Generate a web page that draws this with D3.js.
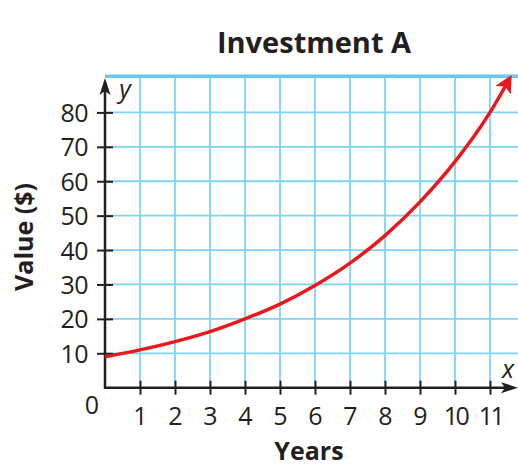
<!DOCTYPE html>
<html>
<head>
<meta charset="utf-8">
<script src="https://cdn.jsdelivr.net/npm/d3@7"></script>
<style>
  body { margin: 0; background: #fff; }
  svg text { font-family: "Open Sans", "Noto Sans", sans-serif; fill: #231f20; }
</style>
</head>
<body>
<script>
const years = [0, 1, 2, 3, 4, 5, 6, 7, 8, 9, 10, 11, 11.57];
const values = [9, 11, 13.4, 16.3, 20, 24.3, 29.7, 36.2, 44.2, 54, 65.7, 80, 90];
const xTicks = [1, 2, 3, 4, 5, 6, 7, 8, 9, 10, 11];
const yTicks = [10, 20, 30, 40, 50, 60, 70, 80];

const width = 518, height = 467;
const gridColor = "#7fd3f7";

const svg = d3.select("body").append("svg")
    .attr("width", width)
    .attr("height", height);

var x = d3.scaleLinear().domain([0, 12]).range([105, 525]);
var y = d3.scaleLinear().domain([0, 90]).range([387.7, 78]);

const defs = svg.append("defs");
defs.append("marker")
    .attr("id", "redArrow")
    .attr("viewBox", "0 0 10 10")
    .attr("refX", 8).attr("refY", 5)
    .attr("markerWidth", 5).attr("markerHeight", 5)
    .attr("markerUnits", "strokeWidth")
    .attr("orient", "auto")
    .append("path")
    .attr("d", "M0,0 L10,5 L0,10 L2.5,5 Z")
    .attr("fill", "#e8191c");

// grid
svg.append("g").selectAll("line")
    .data(d3.range(1, 13))
    .enter().append("line")
    .attr("x1", d => x(d)).attr("x2", d => x(d))
    .attr("y1", y(0)).attr("y2", y(90.5))
    .attr("stroke", gridColor).attr("stroke-width", 1.8);

svg.append("g").selectAll("line")
    .data(yTicks)
    .enter().append("line")
    .attr("x1", x(0)).attr("x2", width)
    .attr("y1", d => y(d)).attr("y2", d => y(d))
    .attr("stroke", gridColor).attr("stroke-width", 1.8);

svg.append("line")
    .attr("x1", x(0)).attr("x2", width)
    .attr("y1", y(90.5)).attr("y2", y(90.5))
    .attr("stroke", "#6cc6ef").attr("stroke-width", 3.5);

// axes
var yAxis = d3.axisLeft(y).tickValues(yTicks).tickSize(8).tickPadding(8);
var yAxisGroup = svg.append("g")
    .attr("transform", `translate(${x(0)}, 0)`)
    .call(yAxis);
yAxisGroup.select(".domain").remove();
yAxisGroup.selectAll(".tick line").attr("x2", 8).attr("x1", -8)
    .attr("stroke", "#231f20").attr("stroke-width", 2);
yAxisGroup.selectAll(".tick text")
    .attr("x", -17)
    .attr("font-size", 25)
    .attr("letter-spacing", -0.5)
    .attr("dy", "0.36em");

var xAxis = d3.axisBottom(x).tickValues(xTicks).tickSize(7).tickPadding(0);
var xAxisGroup = svg.append("g")
    .attr("transform", `translate(0, ${y(0)})`)
    .call(xAxis);
xAxisGroup.select(".domain").remove();
xAxisGroup.selectAll(".tick line").attr("y1", -7).attr("y2", 7)
    .attr("stroke", "#231f20").attr("stroke-width", 2);
xAxisGroup.selectAll(".tick text")
    .attr("y", 37)
    .attr("dy", 0)
    .attr("font-size", 25)
    .attr("letter-spacing", d => d >= 10 ? -2.5 : 0);

// axis lines with arrows
svg.append("line")
    .attr("x1", x(0)).attr("x2", x(0))
    .attr("y1", y(0) + 1).attr("y2", 90)
    .attr("stroke", "#231f20").attr("stroke-width", 2.5);
svg.append("path")
    .attr("d", `M${x(0)},78 L${x(0) + 5.5},95 L${x(0)},91 L${x(0) - 5.5},95 Z`)
    .attr("fill", "#231f20");

svg.append("line")
    .attr("x1", x(0) - 1).attr("x2", 505)
    .attr("y1", y(0)).attr("y2", y(0))
    .attr("stroke", "#231f20").attr("stroke-width", 2.5);
svg.append("path")
    .attr("d", `M518,${y(0)} L501,${y(0) - 5.5} L505,${y(0)} L501,${y(0) + 5.5} Z`)
    .attr("fill", "#231f20");

// curve
const pts = years.map((d, i) => [d, values[i]]);
var line = d3.line()
    .x(d => x(d[0]))
    .y(d => y(d[1]))
    .curve(d3.curveMonotoneX);
svg.append("path")
    .datum(pts)
    .attr("d", line)
    .attr("fill", "none")
    .attr("stroke", "#e8191c")
    .attr("stroke-width", 3.5)
    .attr("marker-end", "url(#redArrow)");

// labels
svg.append("text")
    .attr("x", x(0) - 13).attr("y", 414)
    .attr("text-anchor", "middle")
    .attr("font-size", 25)
    .text("0");

svg.append("text")
    .attr("x", 125).attr("y", 98)
    .attr("text-anchor", "middle")
    .attr("font-size", 25)
    .attr("font-style", "italic")
    .text("y");
svg.append("text")
    .attr("x", 508).attr("y", 378)
    .attr("text-anchor", "middle")
    .attr("font-size", 25)
    .attr("font-style", "italic")
    .text("x");

svg.append("text")
    .attr("x", 314).attr("y", 53)
    .attr("text-anchor", "middle")
    .attr("font-size", 29)
    .attr("font-weight", "bold")
    .text("Investment A");

svg.append("text")
    .attr("x", 309).attr("y", 460)
    .attr("text-anchor", "middle")
    .attr("font-size", 25)
    .attr("font-weight", "bold")
    .text("Years");

svg.append("text")
    .attr("transform", "translate(33, 237) rotate(-90)")
    .attr("text-anchor", "middle")
    .attr("font-size", 25)
    .attr("font-weight", "bold")
    .text("Value ($)");
</script>
</body>
</html>
